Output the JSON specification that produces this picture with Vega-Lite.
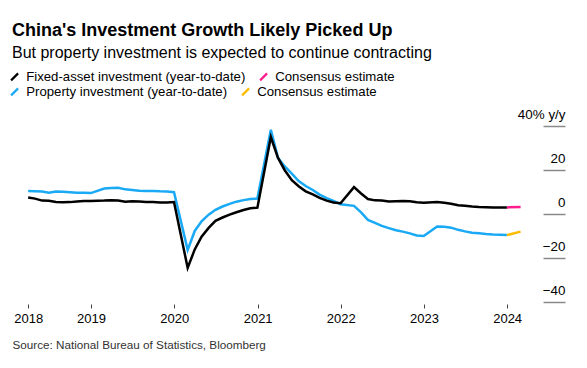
{
  "$schema": "https://vega.github.io/schema/vega-lite/v6.json",
  "width": 553,
  "height": 176,
  "padding": {"left": 12, "right": 22, "top": 22, "bottom": 15},
  "background": "white",
  "title": {
    "text": "China's Investment Growth Likely Picked Up",
    "subtitle": "But property investment is expected to continue contracting",
    "anchor": "start",
    "frame": "group",
    "font": "Liberation Sans",
    "fontSize": 18,
    "fontWeight": "bold",
    "color": "#000000",
    "subtitleFont": "Liberation Sans",
    "subtitleFontSize": 16,
    "subtitleColor": "#000000",
    "subtitlePadding": 5,
    "offset": 9
  },
  "config": {
    "view": {"stroke": null},
    "font": "Liberation Sans",
    "legend": {
      "layout": {"top": {"anchor": "start", "direction": "vertical", "margin": 0}},
      "orient": "top",
      "direction": "horizontal",
      "title": null,
      "symbolType": "M-1,1L1,-1",
      "symbolSize": 49,
      "symbolStrokeWidth": 2.2,
      "symbolOffset": -4,
      "labelFont": "Liberation Sans",
      "labelFontSize": 13.2,
      "labelColor": "#000000",
      "labelOffset": 5,
      "labelLimit": 400,
      "columnPadding": 9,
      "padding": 0,
      "offset": 24
    }
  },
  "data": {
    "values": [
      {"d": "2018-03-31", "v": 10.4, "s": "prop"},
      {"d": "2018-04-30", "v": 10.3, "s": "prop"},
      {"d": "2018-05-31", "v": 10.2, "s": "prop"},
      {"d": "2018-06-30", "v": 9.7, "s": "prop"},
      {"d": "2018-07-31", "v": 10.2, "s": "prop"},
      {"d": "2018-08-31", "v": 10.1, "s": "prop"},
      {"d": "2018-09-30", "v": 9.9, "s": "prop"},
      {"d": "2018-10-31", "v": 9.7, "s": "prop"},
      {"d": "2018-11-30", "v": 9.7, "s": "prop"},
      {"d": "2018-12-31", "v": 9.5, "s": "prop"},
      {"d": "2019-02-28", "v": 11.6, "s": "prop"},
      {"d": "2019-03-31", "v": 11.8, "s": "prop"},
      {"d": "2019-04-30", "v": 11.9, "s": "prop"},
      {"d": "2019-05-31", "v": 11.2, "s": "prop"},
      {"d": "2019-06-30", "v": 10.9, "s": "prop"},
      {"d": "2019-07-31", "v": 10.6, "s": "prop"},
      {"d": "2019-08-31", "v": 10.5, "s": "prop"},
      {"d": "2019-09-30", "v": 10.5, "s": "prop"},
      {"d": "2019-10-31", "v": 10.3, "s": "prop"},
      {"d": "2019-11-30", "v": 10.2, "s": "prop"},
      {"d": "2019-12-31", "v": 9.9, "s": "prop"},
      {"d": "2020-02-29", "v": -16.3, "s": "prop"},
      {"d": "2020-03-31", "v": -7.7, "s": "prop"},
      {"d": "2020-04-30", "v": -3.3, "s": "prop"},
      {"d": "2020-05-31", "v": -0.3, "s": "prop"},
      {"d": "2020-06-30", "v": 1.9, "s": "prop"},
      {"d": "2020-07-31", "v": 3.4, "s": "prop"},
      {"d": "2020-08-31", "v": 4.6, "s": "prop"},
      {"d": "2020-09-30", "v": 5.6, "s": "prop"},
      {"d": "2020-10-31", "v": 6.3, "s": "prop"},
      {"d": "2020-11-30", "v": 6.8, "s": "prop"},
      {"d": "2020-12-31", "v": 7.0, "s": "prop"},
      {"d": "2021-02-28", "v": 38.3, "s": "prop"},
      {"d": "2021-03-31", "v": 25.6, "s": "prop"},
      {"d": "2021-04-30", "v": 21.6, "s": "prop"},
      {"d": "2021-05-31", "v": 18.3, "s": "prop"},
      {"d": "2021-06-30", "v": 15.0, "s": "prop"},
      {"d": "2021-07-31", "v": 12.7, "s": "prop"},
      {"d": "2021-08-31", "v": 10.9, "s": "prop"},
      {"d": "2021-09-30", "v": 8.8, "s": "prop"},
      {"d": "2021-10-31", "v": 7.2, "s": "prop"},
      {"d": "2021-11-30", "v": 6.0, "s": "prop"},
      {"d": "2021-12-31", "v": 4.4, "s": "prop"},
      {"d": "2022-02-28", "v": 3.7, "s": "prop"},
      {"d": "2022-03-31", "v": 0.7, "s": "prop"},
      {"d": "2022-04-30", "v": -2.7, "s": "prop"},
      {"d": "2022-05-31", "v": -4.0, "s": "prop"},
      {"d": "2022-06-30", "v": -5.4, "s": "prop"},
      {"d": "2022-07-31", "v": -6.4, "s": "prop"},
      {"d": "2022-08-31", "v": -7.4, "s": "prop"},
      {"d": "2022-09-30", "v": -8.0, "s": "prop"},
      {"d": "2022-10-31", "v": -8.8, "s": "prop"},
      {"d": "2022-11-30", "v": -9.8, "s": "prop"},
      {"d": "2022-12-31", "v": -10.0, "s": "prop"},
      {"d": "2023-02-28", "v": -5.7, "s": "prop"},
      {"d": "2023-03-31", "v": -5.8, "s": "prop"},
      {"d": "2023-04-30", "v": -6.2, "s": "prop"},
      {"d": "2023-05-31", "v": -7.2, "s": "prop"},
      {"d": "2023-06-30", "v": -7.9, "s": "prop"},
      {"d": "2023-07-31", "v": -8.5, "s": "prop"},
      {"d": "2023-08-31", "v": -8.8, "s": "prop"},
      {"d": "2023-09-30", "v": -9.1, "s": "prop"},
      {"d": "2023-10-31", "v": -9.3, "s": "prop"},
      {"d": "2023-11-30", "v": -9.4, "s": "prop"},
      {"d": "2023-12-31", "v": -9.6, "s": "prop"},
      {"d": "2023-12-31", "v": -9.6, "s": "prop_c"},
      {"d": "2024-02-29", "v": -8.0, "s": "prop_c"},
      {"d": "2018-03-31", "v": 7.5, "s": "fai"},
      {"d": "2018-04-30", "v": 7.0, "s": "fai"},
      {"d": "2018-05-31", "v": 6.1, "s": "fai"},
      {"d": "2018-06-30", "v": 6.0, "s": "fai"},
      {"d": "2018-07-31", "v": 5.5, "s": "fai"},
      {"d": "2018-08-31", "v": 5.3, "s": "fai"},
      {"d": "2018-09-30", "v": 5.4, "s": "fai"},
      {"d": "2018-10-31", "v": 5.7, "s": "fai"},
      {"d": "2018-11-30", "v": 5.9, "s": "fai"},
      {"d": "2018-12-31", "v": 5.9, "s": "fai"},
      {"d": "2019-02-28", "v": 6.1, "s": "fai"},
      {"d": "2019-03-31", "v": 6.3, "s": "fai"},
      {"d": "2019-04-30", "v": 6.1, "s": "fai"},
      {"d": "2019-05-31", "v": 5.6, "s": "fai"},
      {"d": "2019-06-30", "v": 5.8, "s": "fai"},
      {"d": "2019-07-31", "v": 5.7, "s": "fai"},
      {"d": "2019-08-31", "v": 5.5, "s": "fai"},
      {"d": "2019-09-30", "v": 5.4, "s": "fai"},
      {"d": "2019-10-31", "v": 5.2, "s": "fai"},
      {"d": "2019-11-30", "v": 5.2, "s": "fai"},
      {"d": "2019-12-31", "v": 5.4, "s": "fai"},
      {"d": "2020-02-29", "v": -24.5, "s": "fai"},
      {"d": "2020-03-31", "v": -16.1, "s": "fai"},
      {"d": "2020-04-30", "v": -10.3, "s": "fai"},
      {"d": "2020-05-31", "v": -6.3, "s": "fai"},
      {"d": "2020-06-30", "v": -3.1, "s": "fai"},
      {"d": "2020-07-31", "v": -1.6, "s": "fai"},
      {"d": "2020-08-31", "v": -0.3, "s": "fai"},
      {"d": "2020-09-30", "v": 0.8, "s": "fai"},
      {"d": "2020-10-31", "v": 1.8, "s": "fai"},
      {"d": "2020-11-30", "v": 2.6, "s": "fai"},
      {"d": "2020-12-31", "v": 2.9, "s": "fai"},
      {"d": "2021-02-28", "v": 35.0, "s": "fai"},
      {"d": "2021-03-31", "v": 25.6, "s": "fai"},
      {"d": "2021-04-30", "v": 19.9, "s": "fai"},
      {"d": "2021-05-31", "v": 15.4, "s": "fai"},
      {"d": "2021-06-30", "v": 12.6, "s": "fai"},
      {"d": "2021-07-31", "v": 10.3, "s": "fai"},
      {"d": "2021-08-31", "v": 8.9, "s": "fai"},
      {"d": "2021-09-30", "v": 7.3, "s": "fai"},
      {"d": "2021-10-31", "v": 6.1, "s": "fai"},
      {"d": "2021-11-30", "v": 5.2, "s": "fai"},
      {"d": "2021-12-31", "v": 4.9, "s": "fai"},
      {"d": "2022-02-28", "v": 12.2, "s": "fai"},
      {"d": "2022-03-31", "v": 9.3, "s": "fai"},
      {"d": "2022-04-30", "v": 6.8, "s": "fai"},
      {"d": "2022-05-31", "v": 6.2, "s": "fai"},
      {"d": "2022-06-30", "v": 6.1, "s": "fai"},
      {"d": "2022-07-31", "v": 5.7, "s": "fai"},
      {"d": "2022-08-31", "v": 5.8, "s": "fai"},
      {"d": "2022-09-30", "v": 5.9, "s": "fai"},
      {"d": "2022-10-31", "v": 5.8, "s": "fai"},
      {"d": "2022-11-30", "v": 5.3, "s": "fai"},
      {"d": "2022-12-31", "v": 5.1, "s": "fai"},
      {"d": "2023-02-28", "v": 5.5, "s": "fai"},
      {"d": "2023-03-31", "v": 5.1, "s": "fai"},
      {"d": "2023-04-30", "v": 4.7, "s": "fai"},
      {"d": "2023-05-31", "v": 4.0, "s": "fai"},
      {"d": "2023-06-30", "v": 3.8, "s": "fai"},
      {"d": "2023-07-31", "v": 3.4, "s": "fai"},
      {"d": "2023-08-31", "v": 3.2, "s": "fai"},
      {"d": "2023-09-30", "v": 3.1, "s": "fai"},
      {"d": "2023-10-31", "v": 2.9, "s": "fai"},
      {"d": "2023-11-30", "v": 2.9, "s": "fai"},
      {"d": "2023-12-31", "v": 3.0, "s": "fai"},
      {"d": "2023-12-31", "v": 3.0, "s": "fai_c"},
      {"d": "2024-02-29", "v": 3.2, "s": "fai_c"}
    ]
  },
  "encoding": {
    "x": {
      "field": "d",
      "type": "temporal",
      "scale": {
        "type": "utc",
        "domain": [
          {"year": 2018, "month": 1, "date": 19, "utc": true},
          {"year": 2024, "month": 9, "date": 11, "utc": true}
        ]
      },
      "axis": {
        "values": [
          {"year": 2018, "month": 3, "date": 31, "utc": true},
          {"year": 2019, "month": 1, "date": 1, "utc": true},
          {"year": 2020, "month": 1, "date": 1, "utc": true},
          {"year": 2021, "month": 1, "date": 1, "utc": true},
          {"year": 2022, "month": 1, "date": 1, "utc": true},
          {"year": 2023, "month": 1, "date": 1, "utc": true},
          {"year": 2024, "month": 1, "date": 1, "utc": true}
        ],
        "format": "%Y",
        "title": "Source: National Bureau of Statistics, Bloomberg",
        "titleAnchor": "start",
        "titleAlign": "left",
        "titleFont": "Liberation Sans",
        "titleFontSize": 11.7,
        "titleFontWeight": "normal",
        "titleColor": "#333333",
        "titlePadding": 14,
        "domain": false,
        "grid": false,
        "offset": 2,
        "tickSize": 4,
        "tickColor": "#444444",
        "tickWidth": 1,
        "labelFont": "Liberation Sans",
        "labelFontSize": 13,
        "labelColor": "#000000",
        "labelPadding": 4,
        "labelFlush": false,
        "labelOverlap": false
      }
    },
    "y": {
      "field": "v",
      "type": "quantitative",
      "scale": {"domain": [-40, 40], "nice": false},
      "axis": {
        "orient": "right",
        "values": [-40, -20, 0, 20, 40],
        "title": null,
        "domain": false,
        "grid": false,
        "tickSize": -22,
        "tickColor": "#8a8a8a",
        "tickWidth": 1.5,
        "labelPadding": 22,
        "labelAlign": "right",
        "labelBaseline": "alphabetic",
        "labelOffset": -8,
        "labelFont": "Liberation Sans",
        "labelFontSize": 13.4,
        "labelColor": "#000000",
        "labelExpr": "datum.value == 40 ? '40% y/y' : datum.label"
      }
    }
  },
  "layer": [
    {
      "data": {"values": [{}]},
      "mark": {"type": "rule", "color": "#8f8f8f", "strokeWidth": 2},
      "encoding": {"x": null, "y": {"datum": 0, "type": "quantitative"}}
    },
    {
      "transform": [{"filter": "datum.s == 'fai_c'"}],
      "mark": {"type": "line", "strokeWidth": 2.5},
      "encoding": {
        "color": {
          "field": "s",
          "type": "nominal",
          "scale": {"domain": ["fai", "fai_c"], "range": ["#000000", "#ff1d8e"]},
          "legend": {
            "labelExpr": "datum.value == 'fai' ? 'Fixed-asset investment (year-to-date)' : 'Consensus estimate'"
          }
        }
      }
    },
    {
      "transform": [{"filter": "datum.s == 'prop' || datum.s == 'prop_c'"}],
      "mark": {"type": "line", "strokeWidth": 2.5},
      "encoding": {
        "stroke": {
          "field": "s",
          "type": "nominal",
          "scale": {"domain": ["prop", "prop_c"], "range": ["#19a9f5", "#fdbb00"]},
          "legend": {
            "labelExpr": "datum.value == 'prop' ? 'Property investment (year-to-date)' : 'Consensus estimate'"
          }
        }
      }
    },
    {
      "transform": [{"filter": "datum.s == 'fai'"}],
      "mark": {"type": "line", "strokeWidth": 2.5},
      "encoding": {
        "color": {"field": "s", "type": "nominal"}
      }
    }
  ]
}
